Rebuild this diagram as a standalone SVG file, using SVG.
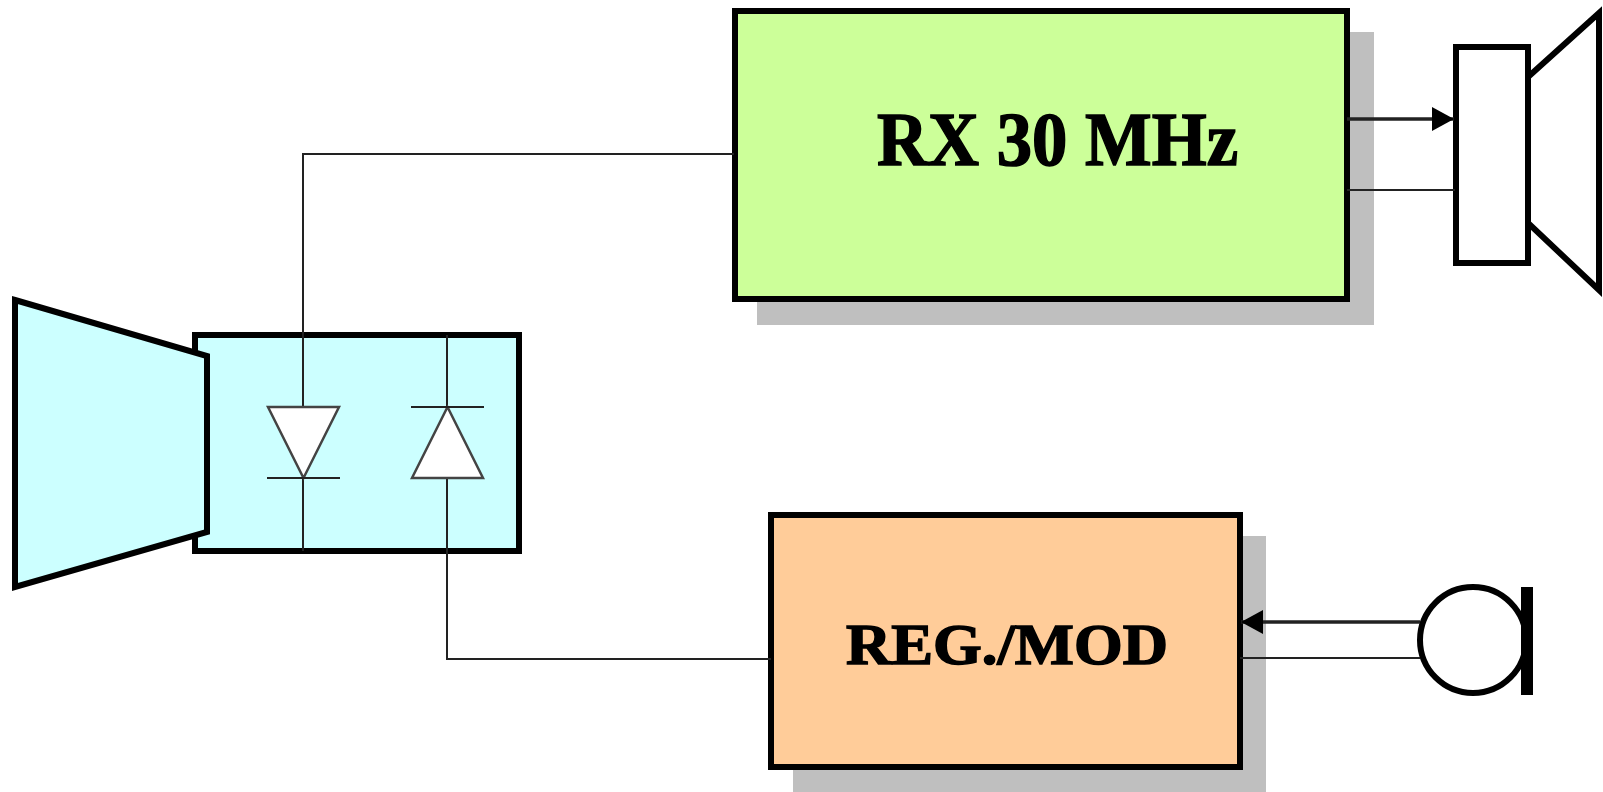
<svg xmlns="http://www.w3.org/2000/svg" width="1603" height="792" viewBox="0 0 1603 792">
<style>
.b{stroke:#000;stroke-width:6;stroke-linejoin:miter}
.w{stroke:#222;stroke-width:2;fill:none}
.t{stroke:#222;stroke-width:3.500;fill:none}
.sh{fill:#bfbfbf}
.d{fill:#fff;stroke:#444;stroke-width:2.500}
.l{font-family:"Liberation Serif","Times New Roman",serif;font-weight:bold;fill:#000;stroke:#000;stroke-width:1.500}
</style>
<defs>
<marker id="ah" markerUnits="userSpaceOnUse" markerWidth="22" markerHeight="24" refX="22" refY="12" orient="auto"><path d="M0,0L22,12L0,24Z" fill="#000"/></marker>
</defs>
<rect width="1603" height="792" fill="#fff"/>
<g id="transceiver">
<rect class="b" x="195" y="335" width="324" height="216" fill="#ccffff"/>
<path class="b" d="M15,300L207,356V532L15,587Z" fill="#ccffff"/>
</g>
<g id="rx">
<rect class="sh" x="757" y="32" width="617" height="293"/>
<rect class="b" x="735" y="11" width="612" height="288" fill="#ccff99"/>
<text class="l" x="877" y="165" font-size="76" textLength="361" lengthAdjust="spacingAndGlyphs">RX 30 MHz</text>
</g>
<g id="reg">
<rect class="sh" x="793" y="536" width="473" height="256"/>
<rect class="b" x="771" y="515" width="469" height="252" fill="#ffcc99"/>
<text class="l" x="846" y="664" font-size="58" textLength="322" lengthAdjust="spacingAndGlyphs">REG./MOD</text>
</g>
<g id="speaker">
<path class="b" d="M1528,77L1599,13V290L1528,223Z" fill="#fff"/>
<rect class="b" x="1456" y="47" width="72" height="216" fill="#fff"/>
</g>
<g id="mic">
<circle cx="1473" cy="640" r="53" fill="#fff" stroke="#000" stroke-width="6"/>
<rect x="1521" y="587" width="12" height="108" fill="#000"/>
</g>
<g id="connectors">
<path class="w" d="M734,154H303V407M303,478V551M447,335V407M447,478V659H771"/>
<path class="w" d="M1347,190H1455M1240,658H1420"/>
<path class="t" d="M1347,119H1454" marker-end="url(#ah)"/>
<path class="t" d="M1420,622H1241" marker-end="url(#ah)"/>
</g>
<g id="diodes">
<path class="d" d="M268,407H339L303.500,478Z"/>
<path class="w" d="M267,478H340"/>
<path class="d" d="M412,478H483L447.500,407Z"/>
<path class="w" d="M411,407H484"/>
</g>
</svg>
